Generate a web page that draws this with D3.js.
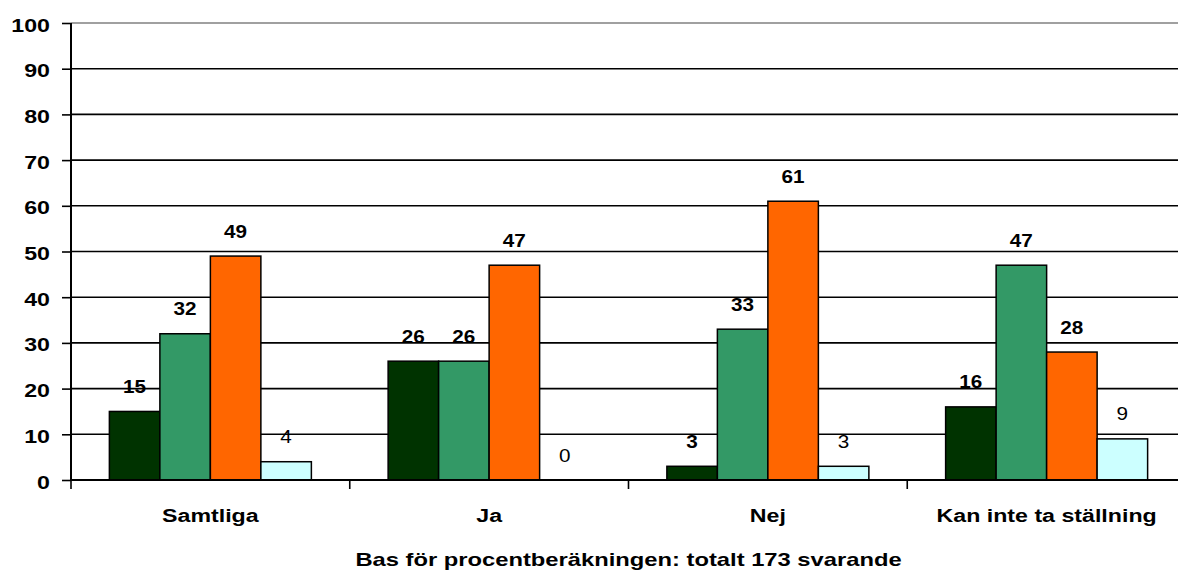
<!DOCTYPE html>
<html>
<head>
<meta charset="utf-8">
<script src="https://cdnjs.cloudflare.com/ajax/libs/d3/7.8.5/d3.min.js"></script>
<style>
  body { margin: 0; background: #fff; }
  svg { display: block; font-family: Arial, "Liberation Sans", sans-serif; }
</style>
</head>
<body>
<div id="chart"></div>
<script>
// ----------------------- data
var categories = ["Samtliga", "Ja", "Nej", "Kan inte ta ställning"];
var series1 = [15, 26, 3, 16];
var series2 = [32, 26, 33, 47];
var series3 = [49, 47, 61, 28];
var series4 = [4, 0, 3, 9];
var yTicks = [0, 10, 20, 30, 40, 50, 60, 70, 80, 90, 100];
var xTitle = "Bas för procentberäkningen: totalt 173 svarande";

var seriesList = [
    { key: "s1", values: series1, color: "#003300", bold: true },
    { key: "s2", values: series2, color: "#339966", bold: true },
    { key: "s3", values: series3, color: "#FF6600", bold: true },
    { key: "s4", values: series4, color: "#CCFFFF", bold: false }
];

// the picture is a bit stretched sideways, so text is too
var stretch = 1.22;

function placeText(sel, fx, fy, sx) {
    sel.attr("x", 0).attr("y", 0)
        .attr("transform", function(d, i) {
            return "translate(" + fx(d, i) + "," + fy(d, i) + ") scale(" + sx + ",1)";
        });
}

function drawChart() {
    var svgWidth = 1178;
    var svgHeight = 573;
    var left = 71, right = 1186, top = 23, bottom = 480; // plot runs past the right edge

    var svg = d3.select("#chart").append("svg")
        .attr("width", svgWidth)
        .attr("height", svgHeight);

    var y = d3.scaleLinear().domain([0, 100]).range([bottom, top]);
    var x = d3.scaleBand().domain(categories).range([left, right]);
    // 4 bars in each group, gap on both sides
    var inner = d3.scaleBand()
        .domain(seriesList.map(function(s) { return s.key; }))
        .range([0, x.bandwidth()])
        .paddingOuter(0.76)
        .paddingInner(0);

    // gridlines
    svg.append("g").selectAll("line")
        .data(yTicks.filter(function(t) { return t > 0; }))
        .enter().append("line")
        .attr("x1", left).attr("x2", right)
        .attr("y1", function(d) { return y(d); })
        .attr("y2", function(d) { return y(d); })
        .attr("stroke", function(d) { return d === 100 ? "#808080" : "#000"; })
        .attr("stroke-width", 1.6);

    // y axis
    var yAxis = svg.append("g")
        .attr("transform", "translate(" + left + ",0)")
        .call(d3.axisLeft(y).tickValues(yTicks).tickSize(9));
    yAxis.select(".domain").attr("stroke-width", 2).attr("d", "M0," + bottom + "V" + top);
    yAxis.selectAll(".tick line").attr("stroke-width", 1.6);
    yAxis.selectAll(".tick text").remove();
    svg.append("g").selectAll("text")
        .data(yTicks)
        .enter().append("text")
        .attr("text-anchor", "end")
        .attr("font-size", 19).attr("font-weight", "bold")
        .attr("fill", "#000")
        .text(function(d) { return d; })
        .call(placeText, function() { return left - 21; }, function(d) { return y(d) + 8.5; }, stretch);

    // bars
    var groups = svg.append("g").selectAll("g")
        .data(categories)
        .enter().append("g")
        .attr("transform", function(d) { return "translate(" + x(d) + ",0)"; });

    groups.selectAll("rect")
        .data(function(d, i) {
            return seriesList.map(function(s) { return { key: s.key, value: s.values[i], color: s.color, bold: s.bold }; });
        })
        .enter().append("rect")
        .filter(function(d) { return d.value > 0; })
        .attr("x", function(d) { return inner(d.key); })
        .attr("y", function(d) { return y(d.value); })
        .attr("width", inner.bandwidth())
        .attr("height", function(d) { return bottom - y(d.value); })
        .attr("fill", function(d) { return d.color; })
        .attr("stroke", "#000")
        .attr("stroke-width", 1.5);

    // labels above bars
    groups.selectAll("text")
        .data(function(d, i) {
            return seriesList.map(function(s) { return { key: s.key, value: s.values[i], bold: s.bold }; });
        })
        .enter().append("text")
        .attr("text-anchor", "middle")
        .attr("font-size", 18)
        .attr("font-weight", function(d) { return d.bold ? "bold" : "normal"; })
        .attr("fill", "#000")
        .text(function(d) { return d.value; })
        .call(placeText,
            function(d) { return inner(d.key) + inner.bandwidth() / 2; },
            function(d) { return y(d.value) - 18.5; }, 1.15);

    // x axis
    var xAxis = svg.append("g")
        .attr("transform", "translate(0," + bottom + ")");
    xAxis.append("line")
        .attr("x1", left).attr("x2", right)
        .attr("stroke", "#000").attr("stroke-width", 2);
    var tickPos = categories.map(function(c) { return x(c); }).concat([right]);
    xAxis.selectAll(".xt")
        .data(tickPos)
        .enter().append("line")
        .attr("class", "xt")
        .attr("x1", function(d) { return d; }).attr("x2", function(d) { return d; })
        .attr("y1", 0).attr("y2", 9)
        .attr("stroke", "#000").attr("stroke-width", 1.6);
    xAxis.selectAll(".xl")
        .data(categories)
        .enter().append("text")
        .attr("class", "xl")
        .attr("text-anchor", "middle")
        .attr("font-size", 19)
        .attr("font-weight", "bold")
        .text(function(d) { return d; })
        .call(placeText, function(d) { return x(d) + x.bandwidth() / 2; }, function() { return 42; }, stretch);

    // title centred on the plot area
    svg.append("text")
        .attr("text-anchor", "middle")
        .attr("font-size", 19)
        .attr("font-weight", "bold")
        .text(xTitle)
        .call(placeText, function() { return (left + right) / 2; }, function() { return 566; }, 1.25);
}

drawChart();
</script>
</body>
</html>
